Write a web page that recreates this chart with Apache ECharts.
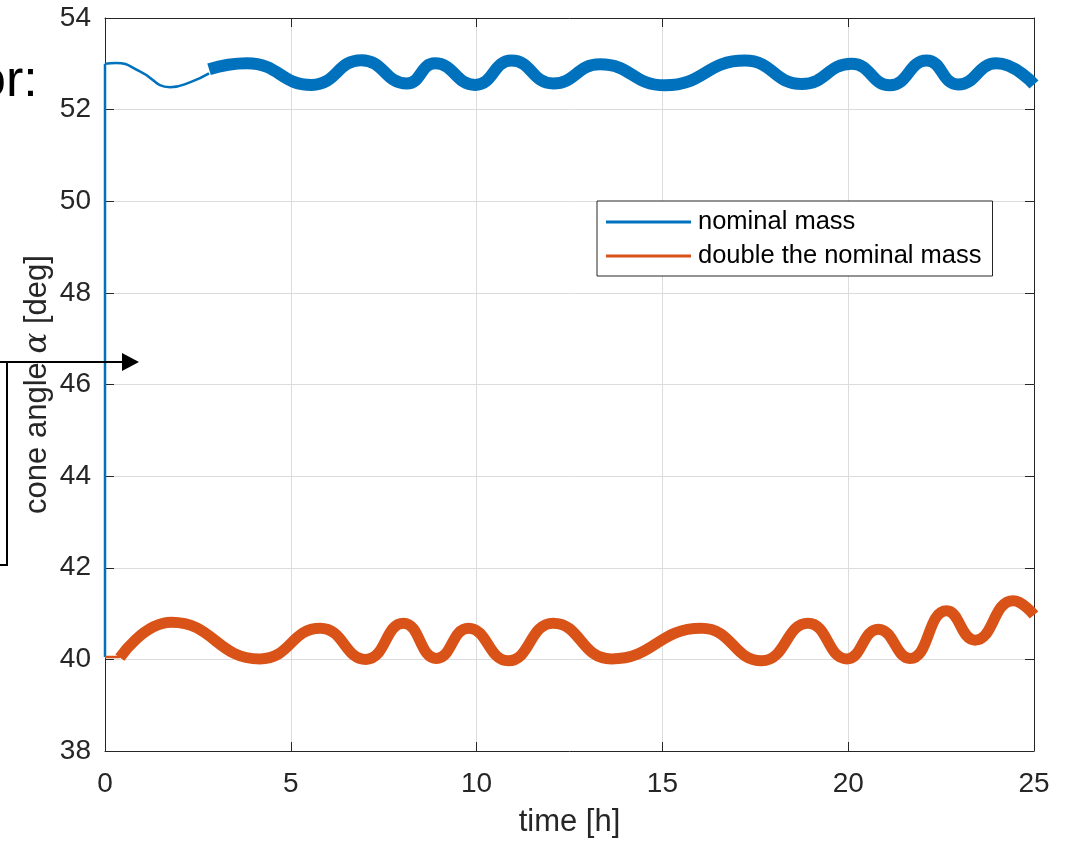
<!DOCTYPE html>
<html>
<head>
<meta charset="utf-8">
<title>Cone angle vs time</title>
<script src="https://cdn.jsdelivr.net/npm/echarts@6/dist/echarts.min.js"></script>
<style>
  html, body { margin: 0; padding: 0; background: #ffffff; }
  #chart { width: 1068px; height: 843px; }
</style>
</head>
<body>
<div id="chart"></div>
<script>
// Axis ranges and ticks
const xTicks = [0, 5, 10, 15, 20, 25];
const yTicks = [38, 40, 42, 44, 46, 48, 50, 52, 54];

// Series names
const seriesNames = ['nominal mass', 'double the nominal mass'];

// Nominal mass: initial jump, slow transient, then fast-oscillating band (drawn thick)
const nominalRise = [[0, 40.05], [0, 53.0]];
const nominalTransient = [
  [0, 53.0], [0.3, 53.02], [0.95, 52.83], [1.75, 52.49], [2.3, 52.6], [2.8, 52.79]
];
const nominalBand = [
  [2.8, 52.88], [3.82, 53.01], [5.56, 52.54], [6.9, 53.08], [8.12, 52.57],
  [8.88, 53.01], [9.96, 52.54], [10.94, 53.07], [12.06, 52.57], [13.32, 52.99],
  [15.07, 52.53], [17.22, 53.07], [18.75, 52.56], [20.09, 53.0], [21.12, 52.53],
  [22.11, 53.07], [22.96, 52.55], [23.99, 53.01], [25, 52.55]
];

// Double the nominal mass: short flat start, then band
const doubleTransient = [[0, 40.05], [0.4, 40.05]];
const doubleBand = [
  [0.4, 40.04], [1.79, 40.81], [4.17, 40.01], [5.79, 40.68], [7.02, 40.0],
  [8.03, 40.79], [8.92, 40.02], [9.78, 40.68], [10.85, 39.97], [12.06, 40.79],
  [13.63, 40.01], [16.05, 40.68], [17.67, 39.97], [18.92, 40.79], [19.96, 40.01],
  [20.81, 40.66], [21.66, 40.02], [22.65, 41.06], [23.41, 40.42], [24.44, 41.28],
  [25, 40.97]
];

const BLUE = '#0072BD';
const ORANGE = '#D95319';
const AXIS = '#262626';
const GRID = '#dcdcdc';
const FONT = '"Liberation Sans", Arial, Helvetica, sans-serif';

const chart = echarts.init(document.getElementById('chart'), null, { renderer: 'canvas' });

function mainX() {
  return {
    type: 'value', position: 'bottom',
    min: xTicks[0], max: xTicks[xTicks.length - 1], interval: xTicks[1] - xTicks[0],
    axisLine: { show: true, onZero: false, lineStyle: { color: AXIS, width: 1 } },
    axisTick: { show: true, inside: true, length: 9, lineStyle: { color: AXIS } },
    axisLabel: { fontSize: 28, color: AXIS, fontFamily: FONT, margin: 19 },
    splitLine: { show: true, lineStyle: { color: GRID, width: 1 } },
    name: 'time [h]', nameLocation: 'middle', nameGap: 56, nameMoveOverlap: false,
    nameTextStyle: { fontSize: 31, color: AXIS, fontFamily: FONT }
  };
}
function mainY() {
  return {
    type: 'value', position: 'left',
    min: yTicks[0], max: yTicks[yTicks.length - 1], interval: yTicks[1] - yTicks[0],
    axisLine: { show: true, onZero: false, lineStyle: { color: AXIS, width: 1 } },
    axisTick: { show: true, inside: true, length: 9, lineStyle: { color: AXIS } },
    axisLabel: { fontSize: 28, color: AXIS, fontFamily: FONT, margin: 14 },
    splitLine: { show: true, lineStyle: { color: GRID, width: 1 } },
    name: 'cone angle {a|α} [deg]', nameLocation: 'middle', nameGap: 52, nameRotate: 90,
    nameMoveOverlap: false,
    nameTextStyle: {
      fontSize: 31, color: AXIS, fontFamily: FONT,
      rich: { a: { fontSize: 31, color: AXIS, fontFamily: '"DejaVu Serif", "Liberation Serif", serif', fontStyle: 'italic' } }
    }
  };
}
function mirrorX() {
  return {
    type: 'value', position: 'top',
    min: xTicks[0], max: xTicks[xTicks.length - 1], interval: xTicks[1] - xTicks[0],
    axisLine: { show: true, onZero: false, lineStyle: { color: AXIS, width: 1 } },
    axisTick: { show: true, inside: true, length: 9, lineStyle: { color: AXIS } },
    axisLabel: { show: false }, splitLine: { show: false }
  };
}
function mirrorY() {
  return {
    type: 'value', position: 'right',
    min: yTicks[0], max: yTicks[yTicks.length - 1], interval: yTicks[1] - yTicks[0],
    axisLine: { show: true, onZero: false, lineStyle: { color: AXIS, width: 1 } },
    axisTick: { show: true, inside: true, length: 9, lineStyle: { color: AXIS } },
    axisLabel: { show: false }, splitLine: { show: false }
  };
}

function lineSeries(name, data, color, width, smooth) {
  return {
    type: 'line', name: name, data: data,
    xAxisIndex: 0, yAxisIndex: 0,
    showSymbol: false, symbol: 'none',
    smooth: smooth,
    color: color,
    lineStyle: { color: color, width: width, cap: 'butt', join: 'round' },
    emphasis: { disabled: true },
    animation: false
  };
}

chart.setOption({
  backgroundColor: '#ffffff',
  animation: false,
  textStyle: { fontFamily: FONT },
  grid: { left: 105, right: 34, top: 18, bottom: 92, containLabel: false },
  xAxis: [mainX(), mirrorX()],
  yAxis: [mainY(), mirrorY()],
  legend: {
    data: seriesNames,
    orient: 'vertical',
    left: 597, top: 201,
    icon: 'rect', itemWidth: 85, itemHeight: 3, itemGap: 8,
    padding: [8, 11, 7, 9],
    backgroundColor: '#ffffff',
    borderColor: AXIS, borderWidth: 1,
    textStyle: { fontSize: 25.5, color: '#000000', fontFamily: FONT, padding: [0, 0, 0, 2] },
    selectedMode: false
  },
  series: [
    lineSeries(seriesNames[0], nominalRise, BLUE, 2.5, false),
    lineSeries(seriesNames[0], nominalTransient, BLUE, 2.5, 0.5),
    lineSeries(seriesNames[0], nominalBand, BLUE, 12, 0.5),
    lineSeries(seriesNames[1], doubleTransient, ORANGE, 2.5, false),
    lineSeries(seriesNames[1], doubleBand, ORANGE, 11, 0.5)
  ],
  graphic: [
    {
      type: 'text', z: 100, left: -23, top: 56,
      style: { text: 'or:', fontSize: 52, fontFamily: FONT, fill: '#000000' }
    },
    {
      type: 'polyline', z: 100,
      shape: { points: [[0, 565], [7, 565], [7, 362]] },
      style: { stroke: '#000000', lineWidth: 2, fill: null }
    },
    {
      type: 'line', z: 100,
      shape: { x1: 0, y1: 362, x2: 124, y2: 362 },
      style: { stroke: '#000000', lineWidth: 2 }
    },
    {
      type: 'polygon', z: 100,
      shape: { points: [[122, 353], [139, 362], [122, 371]] },
      style: { fill: '#000000' }
    }
  ]
});
</script>
</body>
</html>
